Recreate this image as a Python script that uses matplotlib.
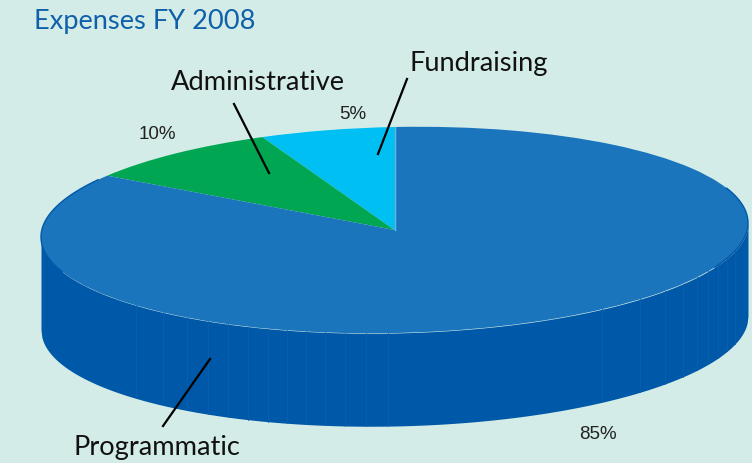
import numpy as np
import matplotlib
matplotlib.use("Agg")
import matplotlib.pyplot as plt
from matplotlib.lines import Line2D
from matplotlib.transforms import Affine2D

# Data
categories = ["Fundraising", "Administrative", "Programmatic"]
percent_labels = ["5%", "10%", "85%"]
drawn_shares = [6.1, 9.0, 84.9]   # slice sizes as they appear on the tilted pie
colors = ["#00BFF3", "#00A651", "#1B75BC"]
title = "Expenses FY 2008"

W, H = 752, 464
BG = "#D3ECE7"
SIDE = "#0058A8"
SEAM = "#0D5FAE"
CX, CY, A, B, DEPTH = 394.5, 231.0, 353.5, 103.0, 93.0
TILT_PX = 7.0
seam_px = [136, 163, 187, 208, 228, 248, 268, 287, 306, 325, 345, 366, 388,
           602, 640, 665, 683, 697, 708, 718, 727, 735]

fig = plt.figure(figsize=(W / 100, H / 100), dpi=100, facecolor=BG)
ax = fig.add_axes([0, 0, 1, 1])

def fx(x): return x / W
def fy(y): return 1 - y / H

# Top face: a unit pie squeezed by independent x/y axis scales
ax.pie(drawn_shares, colors=colors, startangle=90, counterclock=True,
       wedgeprops=dict(linewidth=0), radius=1.0)
ax.set_aspect("auto")
ax.set_xlim((0 - CX) / A, (W - CX) / A)
ax.set_ylim((CY - H) / B, CY / B)
ax.axis("off")

k = TILT_PX / B
tilted = Affine2D(np.array([[1, 0, 0], [k, 1, 0], [0, 0, 1]])) + ax.transData
for w in ax.patches:
    w.set_zorder(3)
    w.set_transform(tilted)

# Side wall
d = DEPTH / B
t = np.linspace(-1, 1, 800)
lower = -np.sqrt(1 - t ** 2)
ax.fill_between(t, lower, lower - d, color=SIDE, linewidth=0, zorder=1, transform=tilted)
for px in seam_px:
    x = (px - CX) / A
    y = -np.sqrt(1 - x ** 2)
    ax.plot([x, x], [y, y - d], color=SEAM, lw=0.6, zorder=2, transform=tilted)

# Rim highlights
th = np.radians(np.linspace(147, 200, 100))
ax.plot(np.cos(th), np.sin(th), color=SIDE, lw=1.0, zorder=4, transform=tilted)
th = np.radians(np.linspace(-25, 20, 100))
ax.plot(np.cos(th), np.sin(th), color=SIDE, lw=1.0, zorder=4, transform=tilted)
ax.plot([0, 0], [0, 1], color="#3CC8F0", lw=1.0, zorder=4, transform=tilted)

# Title and labels
fig.text(fx(34), fy(29), title, color="#0F60A8", fontsize=19.6,
         family="Lato", ha="left", va="baseline")
name_pos = [(479, 71), (258, 90), (157, 455)]
for name, (x, y) in zip(categories, name_pos):
    fig.text(fx(x), fy(y), name, color="#111111", fontsize=19.6,
             family="Lato", ha="center", va="baseline")
pct_pos = [(353, 119), (157, 139), (598, 439)]
for pct, (x, y) in zip(percent_labels, pct_pos):
    fig.text(fx(x), fy(y), pct, color="#222222", fontsize=13.5,
             family="Liberation Sans", ha="center", va="baseline")

# Leader lines
leaders = [((407, 80), (378, 155)), ((234, 105), (269, 174)), ((210, 360), (163, 427))]
for (x0, y0), (x1, y1) in leaders:
    fig.add_artist(Line2D([fx(x0), fx(x1)], [fy(y0), fy(y1)], color="black",
                          lw=1.6, zorder=10, transform=fig.transFigure))

fig.savefig("out.png", dpi=100, facecolor=BG)
